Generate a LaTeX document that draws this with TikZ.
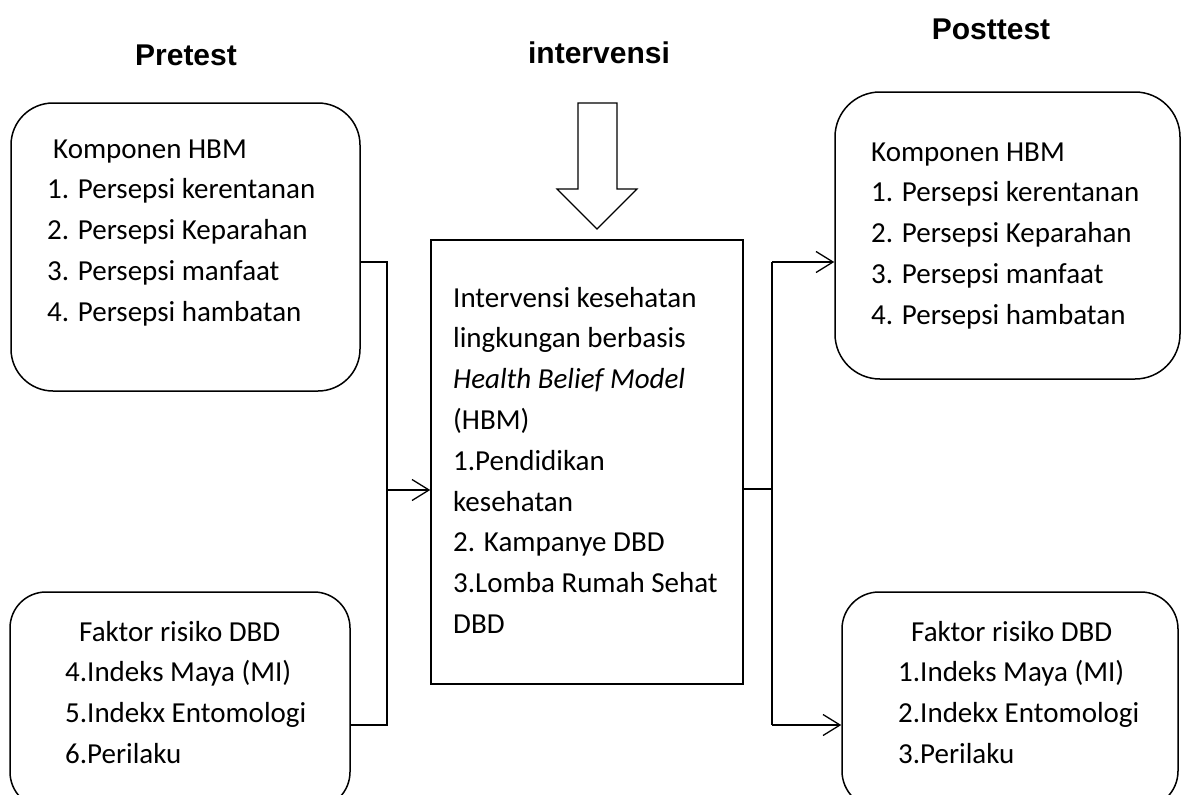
\documentclass[tikz,border=0pt]{standalone}
\usepackage{fontspec}
\setmainfont{Carlito}
\newfontfamily\headfont{Liberation Sans}
\usetikzlibrary{arrows.meta}
\begin{document}
\begin{tikzpicture}[x=1pt,y=-1pt,
  box/.style={draw, line width=1.5pt, rounded corners=#1, inner sep=0pt, rectangle},
  plainbox/.style={draw, line width=1.5pt, inner sep=0pt, rectangle},
  txt/.style={anchor=base west, inner sep=0pt, font=\fontsize{29}{36}\selectfont},
  head/.style={anchor=base, inner sep=0pt, font=\headfont\bfseries\fontsize{30}{36}\selectfont},
  conn/.style={line width=1.3pt},
  arr/.style={line width=1.3pt, -{Straight Barb[length=17pt,width=21pt,line width=1.3pt]}}]
\useasboundingbox (0,0) rectangle (1181,795);
\clip (0,0) rectangle (1181,795);

% headings
\node[head] (hpre) at (186,65) {Pretest};
\node[head] (hint) at (599,63) {intervensi};
\node[head] (hpost) at (991,39) {Posttest};

% boxes
\node[box=42pt, minimum width=349pt, minimum height=288pt] (b1) at (185.5,247) {};
\node[box=36pt, minimum width=340pt, minimum height=216pt] (b2) at (180,700) {};
\node[plainbox, minimum width=312pt, minimum height=444pt] (c) at (587,462) {};
\node[box=45pt, minimum width=345pt, minimum height=287pt] (b3) at (1007.5,235.5) {};
\node[box=37pt, minimum width=336pt, minimum height=216pt] (b4) at (1010,700) {};

% block arrow
\draw[line width=1.2pt, line join=miter] (578,103) -- (617,103) -- (617,189) -- (637,189) -- (597,229) -- (557,189) -- (578,189) -- cycle;

% texts box1
\node[txt] (b1t0) at (53,158) {Komponen HBM};
\foreach \t [count=\i] in {1. Persepsi kerentanan, 2. Persepsi Keparahan, 3. Persepsi manfaat, 4. Persepsi hambatan}
  \node[txt] (b1t\i) at (47,{158+40.8*\i}) {\t};

% texts box3
\node[txt] (b3t0) at (871,161) {Komponen HBM};
\foreach \t [count=\i] in {1. Persepsi kerentanan, 2. Persepsi Keparahan, 3. Persepsi manfaat, 4. Persepsi hambatan}
  \node[txt] (b3t\i) at (871,{161+40.8*\i}) {\t};

% texts center
\foreach \t [count=\i] in {Intervensi kesehatan, lingkungan berbasis, \textit{Health Belief Model}, (HBM), 1.Pendidikan, kesehatan, 2. Kampanye DBD, 3.Lomba Rumah Sehat, DBD}
  \node[txt] (ct\i) at (453,{307+40.8*(\i-1)}) {\t};

% texts box2
\node[txt] (b2t0) at (79,641) {Faktor risiko DBD};
\foreach \t [count=\i] in {4.Indeks Maya (MI), 5.Indekx Entomologi, 6.Perilaku}
  \node[txt] (b2t\i) at (65,{641+40.8*\i}) {\t};

% texts box4
\node[txt] (b4t0) at (911,641) {Faktor risiko DBD};
\foreach \t [count=\i] in {1.Indeks Maya (MI), 2.Indekx Entomologi, 3.Perilaku}
  \node[txt] (b4t\i) at (898,{641+40.8*\i}) {\t};

% connectors
\coordinate (ltop) at (387,262);
\coordinate (lbot) at (387,725);
\coordinate (lmid) at (387,490);
\coordinate (rtop) at (772,262);
\coordinate (rbot) at (772,725);
\coordinate (rmid) at (772,489);
\draw[conn] (b1.east |- ltop) -- (ltop) -- (lbot) -- (b2.east |- lbot);
\draw[arr] (lmid) -- (lmid -| c.west);
\draw[conn] (c.east |- rmid) -- (rmid);
\draw[conn] (rtop) -- (rbot);
\draw[arr] (rtop) -- (rtop -| b3.west);
\draw[arr] (rbot) -- (rbot -| b4.west);
\end{tikzpicture}
\end{document}
